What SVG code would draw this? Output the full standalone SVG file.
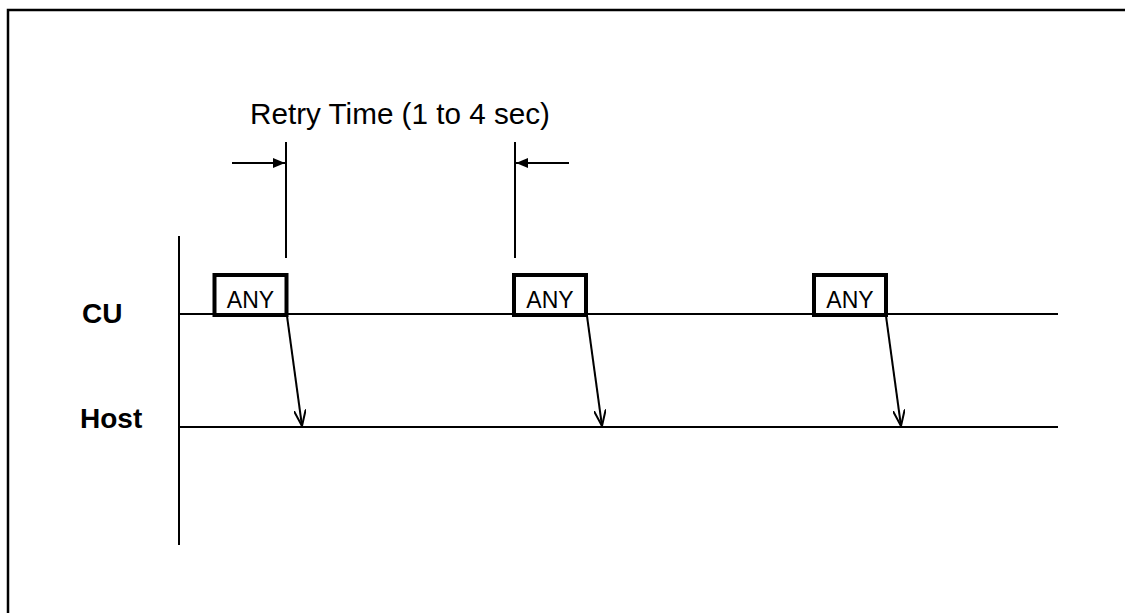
<svg xmlns="http://www.w3.org/2000/svg" width="1125" height="613" viewBox="0 0 1125 613">
  <defs>
    <style>
      .ln { stroke: #000; stroke-width: 2; fill: none; }
      .box { stroke: #000; stroke-width: 4; fill: #fff; }
      .t { font-family: "Liberation Sans", Arial, sans-serif; fill: #000; }
      .lab { font-family: "Liberation Sans", Arial, sans-serif; font-weight: bold; fill: #000; font-size: 28px; }
      .any { font-size: 23px; }
    </style>
    <marker id="open" viewBox="0 0 16 12" refX="16" refY="6" markerWidth="16" markerHeight="12" markerUnits="userSpaceOnUse" orient="auto">
      <path d="M0,0 L16,6 L0,12" fill="none" stroke="#000" stroke-width="2"/>
    </marker>
    <marker id="fill" viewBox="0 0 12 10" refX="12" refY="5" markerWidth="12" markerHeight="10" markerUnits="userSpaceOnUse" orient="auto">
      <path d="M0,0 L12,5 L0,10 Z" fill="#000"/>
    </marker>
  </defs>
  <rect width="1125" height="613" fill="#fff"/>
  <!-- frame -->
  <path d="M8,613 L8,10 L1125,10" stroke="#000" stroke-width="2.5" fill="none"/>

  <g id="axes">
    <line class="ln" x1="179" y1="236" x2="179" y2="545"/>
    <line class="ln" x1="179" y1="314" x2="1058" y2="314"/>
    <line class="ln" x1="179" y1="427" x2="1058" y2="427"/>
  </g>

  <g id="label-cu"><text class="lab" x="82" y="323">CU</text></g>
  <g id="label-host"><text class="lab" x="80" y="428">Host</text></g>

  <g id="dimension">
    <line class="ln" x1="286" y1="142" x2="286" y2="258"/>
    <line class="ln" x1="515" y1="142" x2="515" y2="258"/>
    <text class="t" x="400" y="124" font-size="29" text-anchor="middle" textLength="300" lengthAdjust="spacingAndGlyphs">Retry Time (1 to 4 sec)</text>
  </g>

  <g id="any1">
    <rect class="box" x="214.5" y="275" width="72" height="40"/>
    <text class="t any" x="250.5" y="307.5" text-anchor="middle">ANY</text>
  </g>
  <g id="any2">
    <rect class="box" x="514" y="275" width="72" height="40"/>
    <text class="t any" x="550" y="307.5" text-anchor="middle">ANY</text>
  </g>
  <g id="any3">
    <rect class="box" x="814" y="275" width="72" height="40"/>
    <text class="t any" x="850" y="307.5" text-anchor="middle">ANY</text>
  </g>

  <g id="connectors">
    <line class="ln" x1="232" y1="163" x2="285" y2="163" marker-end="url(#fill)"/>
    <line class="ln" x1="569" y1="163" x2="516" y2="163" marker-end="url(#fill)"/>
    <line class="ln" x1="287" y1="316" x2="302" y2="426" marker-end="url(#open)"/>
    <line class="ln" x1="587" y1="316" x2="602" y2="426" marker-end="url(#open)"/>
    <line class="ln" x1="886" y1="316" x2="901" y2="426" marker-end="url(#open)"/>
  </g>
</svg>
